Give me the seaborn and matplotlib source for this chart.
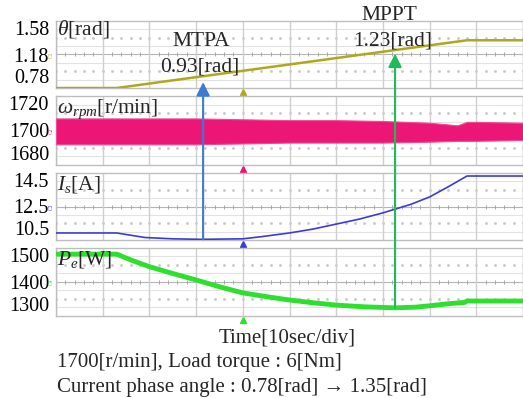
import numpy as np
import matplotlib
matplotlib.use("Agg")
import matplotlib.pyplot as plt
import seaborn as sns
from matplotlib.patches import ConnectionPatch

# ----------------------------------------------------------------------
# Data (time in seconds, 10 s/div)
# ----------------------------------------------------------------------
t_theta = [0, 13, 88, 100]
theta = [0.78, 0.78, 1.35, 1.35]

t_speed = [0, 10, 20, 30, 40, 50, 60, 70, 80, 86, 88, 90, 100]
speed_hi = [1707, 1707, 1707, 1707, 1706.5, 1706, 1706, 1705.5, 1704.5, 1703, 1705, 1705, 1704.5]
speed_lo = [1692, 1692, 1692, 1692, 1692.5, 1693, 1693, 1693, 1693.5, 1694, 1694, 1694, 1694.5]

t_is = [0, 13, 19, 25, 31, 40, 44, 50, 55, 60, 65, 70, 76, 80, 84, 88, 100]
i_s = [10.92, 10.92, 10.65, 10.57, 10.54, 10.57, 10.70, 10.92, 11.15, 11.45, 11.75,
       12.12, 12.63, 13.07, 13.68, 14.32, 14.32]

t_pe = [0, 13, 16, 20, 25, 30, 35, 40, 45, 50, 55, 60, 66, 72.6, 77, 80, 84, 87.5, 88, 100]
p_e = [1482, 1482, 1465, 1445, 1425, 1406, 1386, 1368, 1357, 1347, 1339, 1332, 1327,
       1324, 1326, 1330, 1336, 1340, 1344, 1344]

# operating points
t_mtpa, mtpa_label = 31.5, "0.93[rad]"
t_mppt, mppt_label = 72.6, "1.23[rad]"

# channel settings: (ylim, tick labels, colour, title, channel name)
channels = [
    ((0.78, 1.58), ["0.78", "1.18", "1.58"], "#b0a81c", r"$\theta$[rad]", "C1"),
    ((1680, 1720), ["1680", "1700", "1720"], "#ec1677", r"$\omega_{rpm}$[r/min]", "C2"),
    ((10.5, 14.5), ["10.5", "12.5", "14.5"], "#3b3bdc", r"$I_s$[A]", "C3"),
    ((1300, 1500), ["1300", "1400", "1500"], "#2ee02e", r"$P_e$[W]", "C4"),
]

# ----------------------------------------------------------------------
# Style
# ----------------------------------------------------------------------
sns.set_theme(style="white")
plt.rcParams["font.family"] = ["Liberation Serif", "DejaVu Sans"]
plt.rcParams["mathtext.fontset"] = "custom"
plt.rcParams["mathtext.rm"] = "Liberation Serif"
plt.rcParams["mathtext.it"] = "Liberation Serif:italic"

W, H = 523, 398
fig = plt.figure(figsize=(W / 100, H / 100), dpi=100)

# panel pixel extents (top, bottom)
panel_px = [(21, 88), (96, 165), (173, 240), (248, 316)]
left_px = 56

axes = []
for (top, bot) in panel_px:
    ax = fig.add_axes([left_px / W, 1 - bot / H, 1 - left_px / W, (bot - top) / H])
    axes.append(ax)

dots_t = np.arange(0, 101, 2)
for ax, (ylim, labels, color, title, cname) in zip(axes, channels):
    lo, hi = ylim
    ax.set_xlim(0, 100)
    ax.set_ylim(lo, hi)
    span = hi - lo
    # scope graticule
    ax.set_xticks(range(0, 101, 10))
    ax.set_xticklabels([])
    ax.tick_params(axis="x", length=0)
    ax.grid(axis="x", color="#cfcfcf", lw=1)
    for f in [0.125, 0.375, 0.625, 0.875]:
        ax.axhline(lo + f * span, color="#e2e2e2", lw=0.8, zorder=0)
    for f in [0.25, 0.75]:
        ax.plot(dots_t, [lo + f * span] * len(dots_t), ls="none", marker="s",
                ms=0.9, color="#c8c8c8", zorder=0)
    ax.axhline(lo + 0.5 * span, color="#b4b4b4", lw=0.8, zorder=0)
    ax.plot(dots_t, [lo + 0.5 * span] * len(dots_t), ls="none", marker="|",
            ms=3, mew=0.7, color="#a8a8a8", zorder=0)
    for s in ax.spines.values():
        s.set_color("#bdbdbd")
        s.set_linewidth(1)
    ax.set_yticks([lo, lo + span / 2, hi], labels)
    ax.tick_params(axis="y", length=0, pad=5, labelsize=14.5, colors="black")
    tl = ax.get_yticklabels()
    tl[0].set_va("bottom")
    tl[2].set_va("top")
    # channel title
    ax.text(0.003, 1.04 if cname == "C1" else 0.98, title, transform=ax.transAxes,
            ha="left", va="top", fontsize=15.5, zorder=8)
    # channel marker on the left
    ax.text(-0.004, 0.5, cname, transform=ax.transAxes, rotation=90, ha="right",
            va="center", fontsize=4, color=color)
    # trigger marker below the panel
    ax.plot([40], [-0.06], marker="^", ms=4, color=color, ls="none",
            transform=ax.get_xaxis_transform(), clip_on=False)

# ----------------------------------------------------------------------
# Waveforms
# ----------------------------------------------------------------------
sns.lineplot(x=t_theta, y=theta, ax=axes[0], color=channels[0][2], lw=1.8, zorder=3)
axes[1].fill_between(t_speed, speed_lo, speed_hi, color=channels[1][2], lw=0.8,
                     edgecolor="#f04a90", zorder=3)
sns.lineplot(x=t_is, y=i_s, ax=axes[2], color=channels[2][2], lw=1.2, zorder=3)
sns.lineplot(x=t_pe, y=p_e, ax=axes[3], color=channels[3][2], lw=3.5, zorder=3)
for ax in axes:
    ax.set_xlabel("")
    ax.set_ylabel("")

# ----------------------------------------------------------------------
# MTPA / MPPT arrows and labels
# ----------------------------------------------------------------------
arr_mtpa = ConnectionPatch(xyA=(t_mtpa, 10.54), coordsA=axes[2].transData,
                           xyB=(t_mtpa, 0.85), coordsB=axes[0].transData,
                           arrowstyle="-|>", mutation_scale=20, lw=1.5,
                           color="#3a7bd5", shrinkA=0, shrinkB=0, zorder=6)
fig.add_artist(arr_mtpa)
arr_mppt = ConnectionPatch(xyA=(t_mppt, 1324), coordsA=axes[3].transData,
                           xyB=(t_mppt, 1.19), coordsB=axes[0].transData,
                           arrowstyle="-|>", mutation_scale=20, lw=1.5,
                           color="#1fba5a", shrinkA=0, shrinkB=0, zorder=6)
fig.add_artist(arr_mppt)

axes[0].text(31.0, 1.33, "MTPA", ha="center", va="center", fontsize=15.5, zorder=7)
axes[0].text(30.8, 1.03, mtpa_label, ha="center", va="center", fontsize=15.5, zorder=7)
axes[0].text(71.3, 1.64, "MPPT", ha="center", va="center", fontsize=15.5, zorder=7,
             clip_on=False)
axes[0].text(72.0, 1.34, mppt_label, ha="center", va="center", fontsize=15.5, zorder=7)

# ----------------------------------------------------------------------
# Bottom captions
# ----------------------------------------------------------------------
fig.text(287 / W, 1 - 342 / H, "Time[10sec/div]", ha="center", va="baseline", fontsize=15)
fig.text(57 / W, 1 - 367 / H, "1700[r/min], Load torque : 6[Nm]", ha="left",
         va="baseline", fontsize=15)
fig.text(57 / W, 1 - 392 / H, "Current phase angle : 0.78[rad] \u2192 1.35[rad]",
         ha="left", va="baseline", fontsize=15)

fig.savefig("out.png", dpi=100)
